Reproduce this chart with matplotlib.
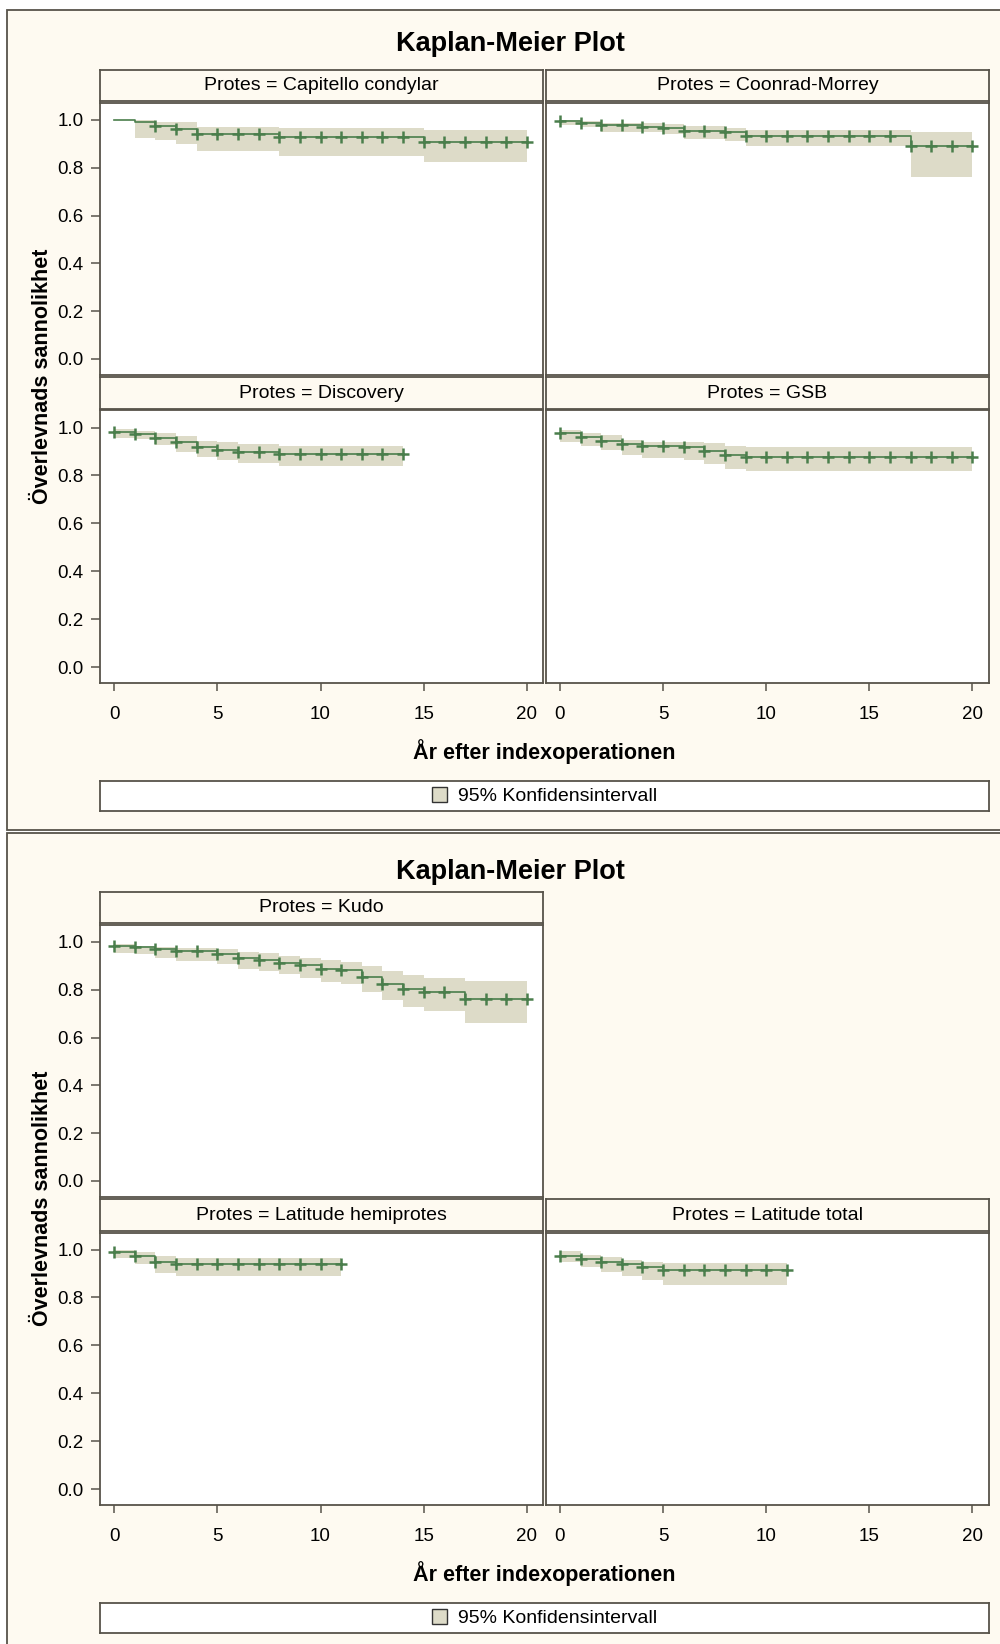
import matplotlib
matplotlib.use('Agg')
import matplotlib.pyplot as plt
from matplotlib.patches import Rectangle, Patch
import numpy as np

# colours
cream = '#FEFAF1'
edge = '#57534A'
ci_col = '#DDDBC8'
line_col = '#4A7E4C'

plt.rcParams['font.family'] = ['Liberation Sans', 'DejaVu Sans']

# ---- data (years, survival, 95% CI) ----
cap_t = [0, 1, 2, 3, 4, 8, 15]
cap_s = [1.0, 0.993, 0.976, 0.962, 0.941, 0.927, 0.909]
cap_lo = [1.0, 0.923, 0.915, 0.900, 0.870, 0.850, 0.826]
cap_hi = [1.0, 1.0, 0.993, 0.990, 0.970, 0.966, 0.958]
cap_cens = [2, 3, 4, 5, 6, 7, 8, 9, 10, 11, 12, 13, 14, 15, 16, 17, 18, 19, 20]

coo_t = [0, 1, 2, 4, 5, 6, 8, 9, 17]
coo_s = [0.996, 0.989, 0.977, 0.972, 0.966, 0.955, 0.948, 0.934, 0.892]
coo_lo = [0.979, 0.972, 0.951, 0.951, 0.941, 0.919, 0.912, 0.891, 0.761]
coo_hi = [1.0, 0.996, 0.989, 0.989, 0.982, 0.976, 0.968, 0.958, 0.951]
coo_cens = [0, 1, 2, 3, 4, 5, 6, 7, 8, 9, 10, 11, 12, 13, 14, 15, 16, 17, 18, 19, 20]

dis_t = [0, 1, 2, 3, 4, 5, 6, 8]
dis_s = [0.983, 0.975, 0.958, 0.938, 0.919, 0.907, 0.899, 0.889]
dis_lo = [0.958, 0.951, 0.928, 0.899, 0.875, 0.864, 0.854, 0.840]
dis_hi = [0.993, 0.986, 0.976, 0.965, 0.944, 0.938, 0.931, 0.924]
dis_cens = [0, 1, 2, 3, 4, 5, 6, 7, 8, 9, 10, 11, 12, 13, 14]

gsb_t = [0, 1, 2, 3, 4, 6, 7, 8, 9]
gsb_s = [0.976, 0.961, 0.944, 0.931, 0.921, 0.917, 0.903, 0.886, 0.878]
gsb_lo = [0.940, 0.924, 0.907, 0.886, 0.872, 0.865, 0.847, 0.826, 0.817]
gsb_hi = [0.990, 0.979, 0.968, 0.947, 0.940, 0.940, 0.935, 0.924, 0.919]
gsb_cens = [0, 1, 2, 3, 4, 5, 6, 7, 8, 9, 10, 11, 12, 13, 14, 15, 16, 17, 18, 19, 20]

kud_t = [0, 1, 2, 3, 5, 6, 7, 8, 9, 10, 11, 12, 13, 14, 15, 17]
kud_s = [0.985, 0.980, 0.971, 0.961, 0.949, 0.933, 0.924, 0.914, 0.903, 0.886,
         0.882, 0.855, 0.826, 0.805, 0.792, 0.763]
kud_lo = [0.954, 0.949, 0.933, 0.921, 0.907, 0.886, 0.879, 0.865, 0.851, 0.833,
          0.823, 0.791, 0.757, 0.729, 0.711, 0.662]
kud_hi = [0.992, 0.985, 0.980, 0.973, 0.971, 0.956, 0.952, 0.942, 0.935, 0.924,
          0.918, 0.900, 0.879, 0.861, 0.851, 0.837]
kud_cens = [0, 1, 2, 3, 4, 5, 6, 7, 8, 9, 10, 11, 12, 13, 14, 15, 16, 17, 18, 19, 20]

lah_t = [0, 1, 2, 3]
lah_s = [0.989, 0.974, 0.950, 0.939]
lah_lo = [0.964, 0.939, 0.904, 0.890]
lah_hi = [0.996, 0.989, 0.974, 0.964]
lah_cens = [0, 1, 2, 3, 4, 5, 6, 7, 8, 9, 10, 11]

lat_t = [0, 1, 2, 3, 4, 5]
lat_s = [0.975, 0.960, 0.947, 0.939, 0.929, 0.9125]
lat_lo = [0.950, 0.925, 0.906, 0.890, 0.874, 0.853]
lat_hi = [0.992, 0.978, 0.968, 0.957, 0.950, 0.943]
lat_cens = [0, 1, 2, 3, 4, 5, 6, 7, 8, 9, 10, 11]

ends = {'cap': 20, 'coo': 20, 'dis': 14, 'gsb': 20, 'kud': 20, 'lah': 11, 'lat': 11}

# (label, data, end, frame, row, col)
panels = [
    ('Protes = Capitello condylar', (cap_t, cap_s, cap_lo, cap_hi, cap_cens), ends['cap'], 0, 0, 0),
    ('Protes = Coonrad-Morrey', (coo_t, coo_s, coo_lo, coo_hi, coo_cens), ends['coo'], 0, 0, 1),
    ('Protes = Discovery', (dis_t, dis_s, dis_lo, dis_hi, dis_cens), ends['dis'], 0, 1, 0),
    ('Protes = GSB', (gsb_t, gsb_s, gsb_lo, gsb_hi, gsb_cens), ends['gsb'], 0, 1, 1),
    ('Protes = Kudo', (kud_t, kud_s, kud_lo, kud_hi, kud_cens), ends['kud'], 1, 0, 0),
    ('Protes = Latitude hemiprotes', (lah_t, lah_s, lah_lo, lah_hi, lah_cens), ends['lah'], 1, 1, 0),
    ('Protes = Latitude total', (lat_t, lat_s, lat_lo, lat_hi, lat_cens), ends['lat'], 1, 1, 1),
]

yticks = [0.0, 0.2, 0.4, 0.6, 0.8, 1.0]
xticks = [0, 5, 10, 15, 20]

# ---- layout in pixels ----
W, H = 1000, 1644
fig = plt.figure(figsize=(W / 100, H / 100), dpi=100)
fig.patch.set_facecolor('white')


def frect(x0, y0, x1, y1):
    return [x0 / W, 1 - y1 / H, (x1 - x0) / W, (y1 - y0) / H]


off = 822
cols = [(100, 543.3), (545.7, 989)]
strips = [(70, 101.5), (377, 409)]
plots = [(103, 375), (410.5, 683.3)]

# outer frames
for f in range(2):
    y0 = 10.5 + f * 823
    y1 = 830 + f * 830
    fig.patches.append(Rectangle((7 / W, 1 - y1 / H), 1.0, (y1 - y0) / H,
                                 transform=fig.transFigure, facecolor=cream,
                                 edgecolor=edge, lw=1.3, zorder=-5))
    fig.text(510 / W, 1 - (44 + f * 828) / H, 'Kaplan-Meier Plot',
             ha='center', va='center', fontsize=19.5, fontweight='bold')
    fig.text(544.5 / W, 1 - (752 + f * off) / H, 'År efter indexoperationen',
             ha='center', va='center', fontsize=15.5, fontweight='bold')
    fig.text(43 / W, 1 - (376 + f * off) / H, 'Överlevnads sannolikhet',
             ha='center', va='center', rotation=90, fontsize=15.5, fontweight='bold')
    # legend box
    lax = fig.add_axes(frect(100, 781 + f * off, 989, 811 + f * off))
    lax.set_facecolor('white')
    lax.set_xticks([])
    lax.set_yticks([])
    for sp in lax.spines.values():
        sp.set_color(edge)
        sp.set_linewidth(1.3)
    lax.legend(handles=[Patch(facecolor=ci_col, edgecolor='#333333', lw=1.0,
                              label='95% Konfidensintervall')],
               loc='center', frameon=False, fontsize=14,
               handlelength=0.75, handleheight=0.85, handletextpad=0.55,
               borderaxespad=0)

for label, (t, s, lo, hi, cens), end, f, r, c in panels:
    x0, x1 = cols[c]
    sy0, sy1 = strips[r]
    py0, py1 = plots[r]
    # strip header
    sax = fig.add_axes(frect(x0, sy0 + f * off, x1, sy1 + f * off))
    sax.set_facecolor(cream)
    sax.set_xticks([])
    sax.set_yticks([])
    for sp in sax.spines.values():
        sp.set_color(edge)
        sp.set_linewidth(1.3)
    sax.text(0.5, 0.5, label, ha='center', va='center', fontsize=14,
             transform=sax.transAxes)

    ax = fig.add_axes(frect(x0, py0 + f * off, x1, py1 + f * off))
    ax.set_facecolor('white')
    tt = list(t) + [end]
    ax.fill_between(tt, list(lo) + [lo[-1]], list(hi) + [hi[-1]], step='post',
                    color=ci_col, lw=0, zorder=1)
    ax.step(tt, list(s) + [s[-1]], where='post', color=line_col, lw=1.2, zorder=2)
    idx = np.searchsorted(t, cens, side='right') - 1
    ax.plot(cens, np.array(s)[idx], '+', color=line_col, ms=8, mew=1.8, zorder=3)

    ax.set_xlim(-0.69, 20.8)
    ax.set_ylim(-0.067, 1.071)
    ax.set_xticks(xticks)
    ax.set_yticks(yticks)
    ax.tick_params(axis='y', direction='out', length=6.5, width=1.1, color=edge,
                   pad=5.5, labelsize=13.5)
    ax.tick_params(axis='x', direction='out', length=6, width=1.1, color=edge,
                   pad=10, labelsize=13.5)
    ax.yaxis.set_major_formatter(matplotlib.ticker.FormatStrFormatter('%.1f'))
    if c != 0:
        ax.tick_params(axis='y', left=False, labelleft=False)
    if r != 1:
        ax.tick_params(axis='x', bottom=False, labelbottom=False)
    for sp in ax.spines.values():
        sp.set_color(edge)
        sp.set_linewidth(1.3)

fig.savefig('out.png', dpi=100)
